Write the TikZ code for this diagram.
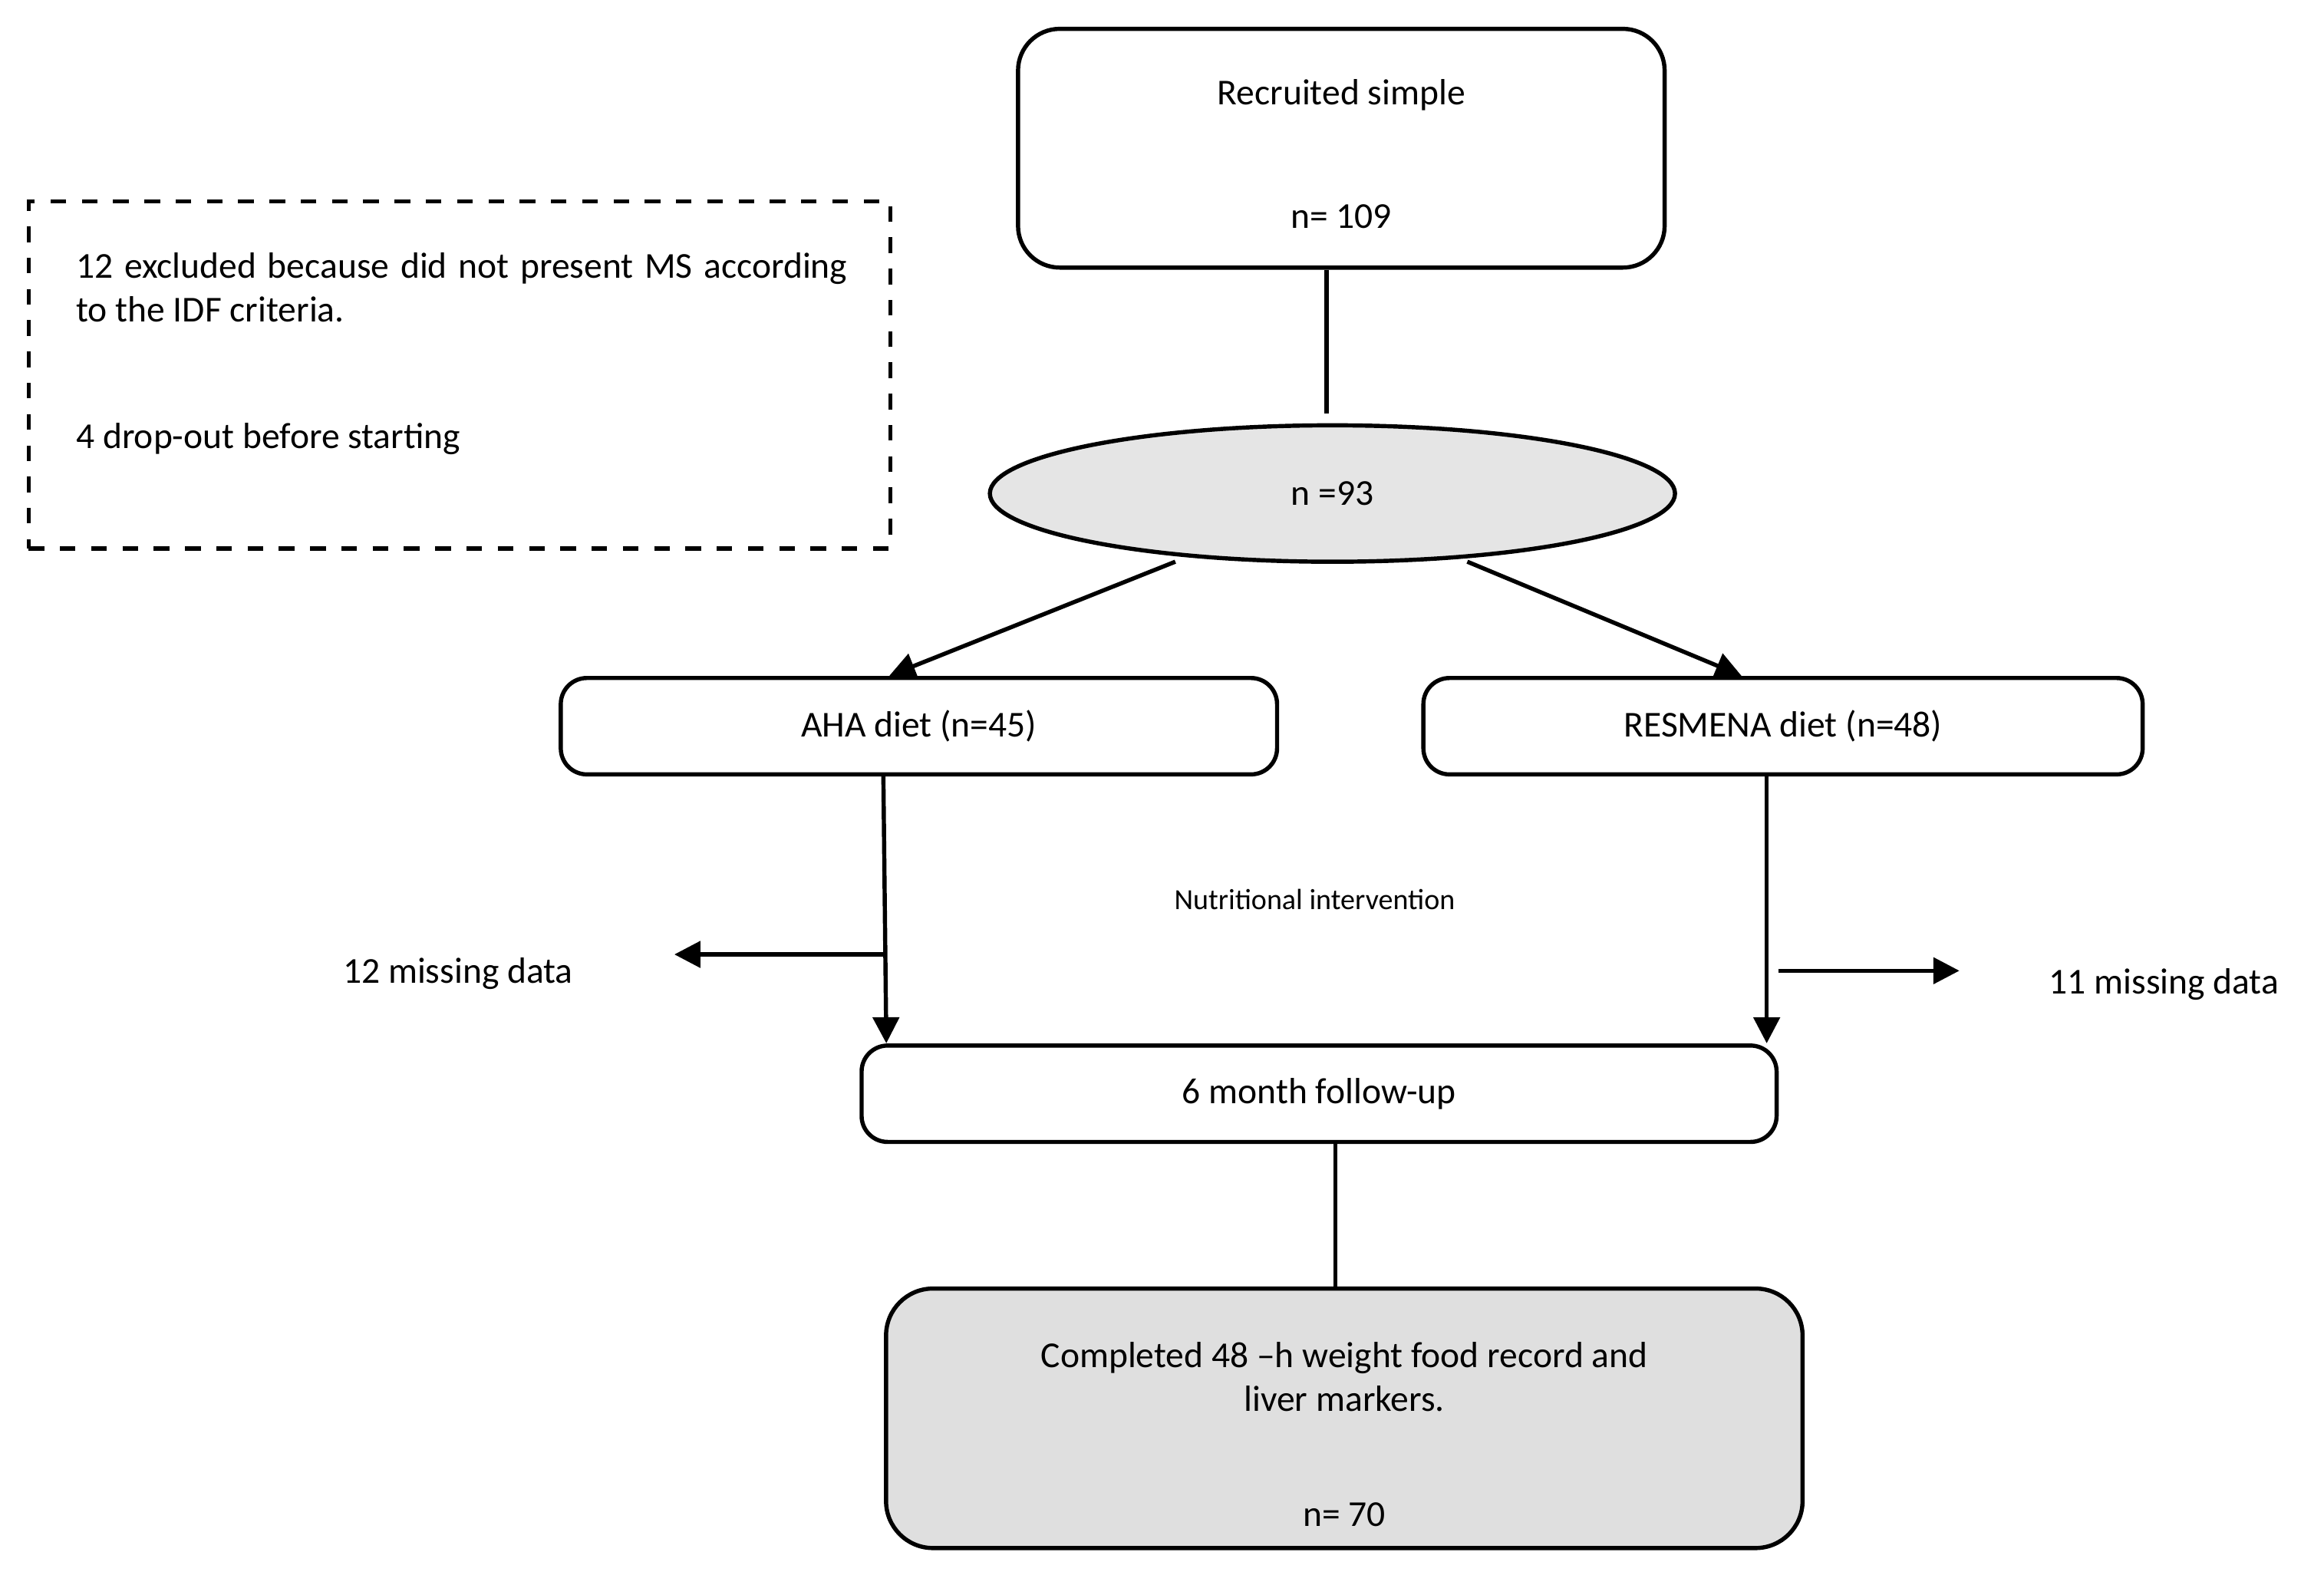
\documentclass[tikz,border=0pt]{standalone}
\usepackage{fontspec}
\setmainfont{Carlito}
\usetikzlibrary{shapes.geometric,arrows.meta}
\begin{document}
\begin{tikzpicture}[
        x=0.01cm,y=-0.01cm,
        thick,
        font=\fontsize{7}{8.5}\selectfont
    ]
    \tikzset{
        flowbox/.style = {rectangle, rounded corners=5pt, draw=black, align=center, inner sep=0pt},
        sidetext/.style = {align=center, inner sep=0pt},
        flowarrow/.style = {-{Triangle[length=5pt,width=5pt]}},
    }
    \useasboundingbox (0,0) rectangle (1568,1069);
    \node[flowbox,minimum width=4.36cm,minimum height=1.61cm,rounded corners=8pt] (recruit) at (905,100) {};
    \node[sidetext] at (905,64) {Recruited simple};
    \node[sidetext] at (905,146) {n= 109};
    \node[rectangle,dashed,draw=black,minimum width=5.81cm,minimum height=2.34cm] (excl) at (310,253) {};
    \node[anchor=west,text width=5.2cm,align=justify,inner sep=0pt] at (50,194)
        {12 excluded because did not present MS according to the IDF criteria.};
    \node[anchor=west,inner sep=0pt] at (50,296) {4 drop-out before starting};
    \node[ellipse,draw=black,fill=gray!20,minimum width=4.62cm,minimum height=0.92cm,inner sep=0pt] (all) at (899,333) {n =93};
    \node[flowbox,minimum width=4.83cm,minimum height=0.65cm] (aha) at (620,490) {AHA diet (n=45)};
    \node[flowbox,minimum width=4.85cm,minimum height=0.65cm] (resmena) at (1203,490) {RESMENA diet (n=48)};
    \node[flowbox,minimum width=6.17cm,minimum height=0.65cm] (follow) at (890,738) {6 month follow-up};
    \node[flowbox,minimum width=6.18cm,minimum height=1.75cm,rounded corners=9pt,fill=gray!25] (done) at (907,957) {};
    \node[sidetext] at (907,929) {Completed 48 --h weight food record and\\liver markers.};
    \node[sidetext] at (907,1022) {n= 70};
    \node[sidetext,font=\fontsize{5.6}{7}\selectfont] (interv) at (887,607) {Nutritional intervention};
    \node[sidetext] (miss1) at (309,657) {12 missing data};
    \node[sidetext] (miss2) at (1460,664) {11 missing data};
    \coordinate (c1) at (895,279);
    \coordinate (a1) at (793,379);
    \coordinate (a2) at (990,379);
    \coordinate (m1) at (596,644);
    \coordinate (m1e) at (455,644);
    \coordinate (m2) at (1200,655);
    \coordinate (m2e) at (1322,655);
    \draw (recruit.south -| c1) -- (c1);
    \draw[flowarrow] (a1) -- (600,456);
    \draw[flowarrow] (a2) -- (1175,456);
    \draw[flowarrow] (596,523) -- (598,704);
    \draw[flowarrow] (1192,523) -- (1192,704);
    \draw[flowarrow] (m1) -- (m1e);
    \draw[flowarrow] (m2) -- (m2e);
    \draw (901,771) -- (901,870);
\end{tikzpicture}
\end{document}
